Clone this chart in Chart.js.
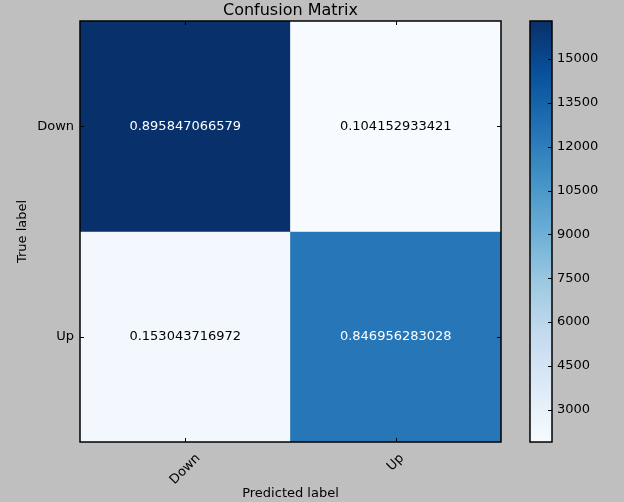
<!DOCTYPE html>
<html>
<head>
<meta charset="utf-8">
<script src="https://cdn.jsdelivr.net/npm/chart.js@4"></script>
<style>
  body { margin:0; background:#bfbfbf; }
  #wrap { position:relative; width:624px; height:502px; overflow:hidden; }
  #wrap canvas { position:absolute; top:0; }
</style>
</head>
<body>
<div id="wrap">
  <canvas id="matrix" width="624" height="502" style="left:0"></canvas>
  <canvas id="cbar" width="114" height="502" style="left:510px"></canvas>
</div>
<script>
// ── data ──
const predictedLabels = ['Down', 'Up'];
const trueLabels      = ['Down', 'Up'];
const countsDown = [16303, 1895];   // true Down row (colour scale)
const countsUp   = [2241, 12400];   // true Up row
const ratesDown  = [0.895847066579, 0.104152933421];
const ratesUp    = [0.153043716972, 0.846956283028];
const colorTicks = [3000, 4500, 6000, 7500, 9000, 10500, 12000, 13500, 15000];

const FONT = '"DejaVu Sans", sans-serif';
const bluesStops = ['#f7fbff','#deebf7','#c6dbef','#9ecae1','#6baed6','#4292c6','#2171b5','#08519c','#08306b'];

const allCounts = countsDown.concat(countsUp);
const vmin = Math.min(...allCounts);
const vmax = Math.max(...allCounts);
const thresh = vmax / 2;

function hex(c) { return [1,3,5].map(i => parseInt(c.substr(i,2),16)); }
function blues(v) {
  let t = (v - vmin) / (vmax - vmin);
  t = Math.max(0, Math.min(1, t)) * (bluesStops.length - 1);
  const i = Math.min(Math.floor(t), bluesStops.length - 2);
  const a = hex(bluesStops[i]), b = hex(bluesStops[i+1]), f = t - i;
  return `rgb(${a.map((x,k)=>Math.round(x + (b[k]-x)*f)).join(',')})`;
}

// ── main matrix ──
const cellText = {
  id: 'cellText',
  afterDatasetsDraw(chart) {
    const ctx = chart.ctx;
    const rows = [[countsDown, ratesDown], [countsUp, ratesUp]];
    ctx.save();
    ctx.font = '13px ' + FONT;
    ctx.textAlign = 'center';
    ctx.textBaseline = 'middle';
    chart.data.datasets.forEach((ds, r) => {
      chart.getDatasetMeta(r).data.forEach((el, c) => {
        ctx.fillStyle = rows[r][0][c] > thresh ? '#ffffff' : '#000000';
        ctx.fillText(String(rows[r][1][c]), el.x, (el.y + el.base) / 2);
      });
    });
    ctx.restore();
  },
  afterDraw(chart) {
    const {ctx, chartArea: a, scales} = chart;
    ctx.save();
    // inward tick marks
    ctx.strokeStyle = '#000';
    ctx.lineWidth = 1;
    ctx.beginPath();
    scales.x.ticks.forEach((t, i) => {
      const x = Math.round(scales.x.getPixelForTick(i)) + 0.5;
      ctx.moveTo(x, a.top); ctx.lineTo(x, a.top + 4);
      ctx.moveTo(x, a.bottom); ctx.lineTo(x, a.bottom - 4);
    });
    scales.y.ticks.forEach(t => {
      const y = Math.round(scales.y.getPixelForValue(t.value)) + 0.5;
      ctx.moveTo(a.left, y); ctx.lineTo(a.left + 4, y);
      ctx.moveTo(a.right, y); ctx.lineTo(a.right - 4, y);
    });
    ctx.stroke();
    // frame
    ctx.lineWidth = 1.5;
    ctx.strokeRect(a.left, a.top, a.right - a.left, a.bottom - a.top);
    // title
    ctx.fillStyle = '#000';
    ctx.font = '16px ' + FONT;
    ctx.textAlign = 'center';
    ctx.textBaseline = 'middle';
    ctx.fillText('Confusion Matrix', (a.left + a.right) / 2, 11);
    // rotated x tick labels, centred on the tick like matplotlib
    ctx.font = '13px ' + FONT;
    scales.x.ticks.forEach((t, i) => {
      const label = predictedLabels[i];
      const w = ctx.measureText(label).width;
      const half = (w + 12) / (2 * Math.SQRT2);
      ctx.save();
      ctx.translate(scales.x.getPixelForTick(i), a.bottom + 10 + half);
      ctx.rotate(-Math.PI / 4);
      ctx.fillText(label, 0, 0);
      ctx.restore();
    });
    ctx.restore();
  }
};

new Chart(document.getElementById('matrix'), {
  type: 'bar',
  data: {
    labels: predictedLabels,
    datasets: [
      { label: trueLabels[0], data: predictedLabels.map(() => [0, 1]), backgroundColor: countsDown.map(blues) },
      { label: trueLabels[1], data: predictedLabels.map(() => [1, 2]), backgroundColor: countsUp.map(blues) }
    ]
  },
  options: {
    responsive: false,
    animation: false,
    layout: { padding: { top: 21, right: 123, left: 0, bottom: 0 } },
    datasets: { bar: { barPercentage: 1, categoryPercentage: 1, borderWidth: 0 } },
    plugins: { legend: { display: false }, tooltip: { enabled: false } },
    scales: {
      x: {
        stacked: true,
        grid: { display: false, drawTicks: false },
        border: { display: false },
        ticks: { display: false },
        title: { display: true, text: 'Predicted label', color: '#000', font: { family: FONT, size: 13 }, padding: { bottom: 1 } },
        afterFit: s => { s.height = 60; }
      },
      y: {
        stacked: false,
        reverse: true,
        min: 0, max: 2,
        grid: { display: false, drawTicks: false },
        border: { display: false },
        afterBuildTicks: s => { s.ticks = [{ value: 0.5 }, { value: 1.5 }]; },
        ticks: { color: '#000', padding: 6, font: { family: FONT, size: 13 }, callback: (v, i) => trueLabels[i] },
        title: { display: true, text: 'True label', color: '#000', font: { family: FONT, size: 13 }, padding: { top: 15 } },
        afterFit: s => { s.width = 80; }
      }
    }
  },
  plugins: [cellText]
});

// ── colour bar ──
const cbarFrame = {
  id: 'cbarFrame',
  afterDraw(chart) {
    const {ctx, chartArea: a, scales} = chart;
    ctx.save();
    ctx.strokeStyle = '#000';
    ctx.lineWidth = 1;
    ctx.beginPath();
    scales.y.ticks.forEach(t => {
      const y = Math.round(scales.y.getPixelForValue(t.value)) + 0.5;
      ctx.moveTo(a.right, y); ctx.lineTo(a.right - 4, y);
    });
    ctx.stroke();
    ctx.lineWidth = 1.5;
    ctx.strokeRect(a.left, a.top, a.right - a.left, a.bottom - a.top);
    ctx.restore();
  }
};

new Chart(document.getElementById('cbar'), {
  type: 'bar',
  data: {
    labels: [''],
    datasets: [{
      data: [[vmin, vmax]],
      borderWidth: 0,
      barPercentage: 1,
      categoryPercentage: 1,
      backgroundColor: c => {
        const ch = c.chart;
        if (!ch.chartArea) return blues((vmin + vmax) / 2);
        const ys = ch.scales.y;
        const g = ch.ctx.createLinearGradient(0, ys.getPixelForValue(vmin), 0, ys.getPixelForValue(vmax));
        bluesStops.forEach((col, i) => g.addColorStop(i / (bluesStops.length - 1), col));
        return g;
      }
    }]
  },
  options: {
    responsive: false,
    animation: false,
    layout: { padding: { top: 21, bottom: 60, left: 20, right: 0 } },
    plugins: { legend: { display: false }, tooltip: { enabled: false } },
    scales: {
      x: { display: false },
      y: {
        position: 'right',
        min: vmin, max: vmax,
        grid: { display: false, drawTicks: false },
        border: { display: false },
        afterBuildTicks: s => { s.ticks = colorTicks.map(v => ({ value: v })); },
        ticks: { color: '#000', padding: 5, font: { family: FONT, size: 13 }, callback: v => String(v) },
        afterFit: s => { s.width = 72; }
      }
    }
  },
  plugins: [cbarFrame]
});
</script>
</body>
</html>
